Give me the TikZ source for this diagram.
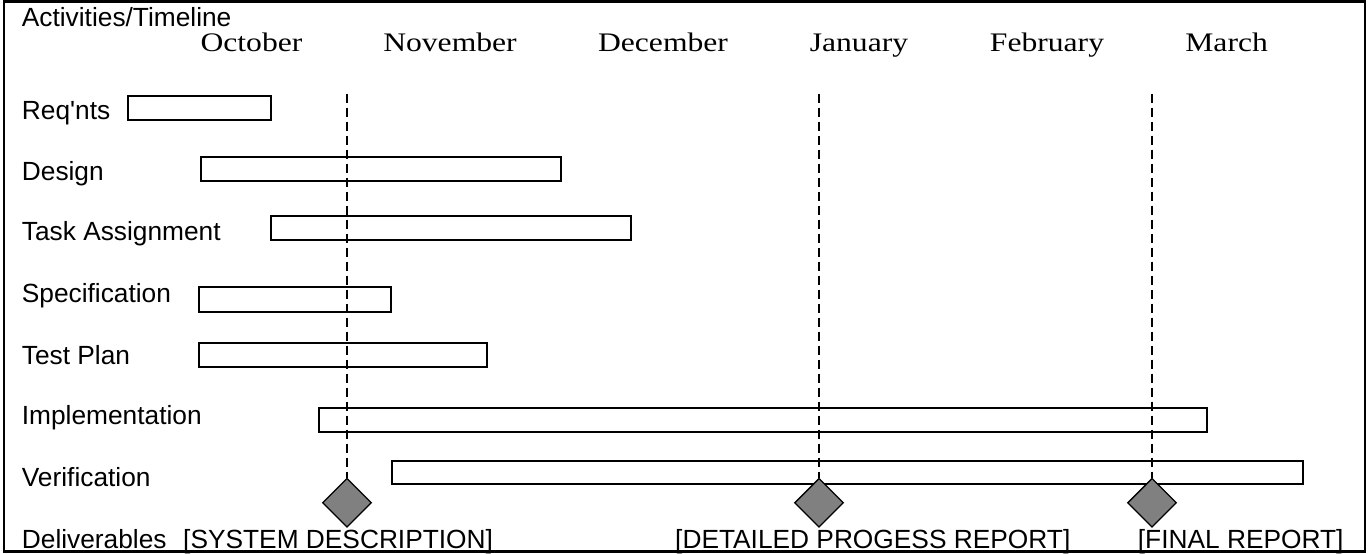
\documentclass[tikz,border=0pt]{standalone}
\usepackage{fontspec}
\setmainfont{Liberation Sans}
\newfontfamily\serifmonth{Liberation Serif}
\usetikzlibrary{shapes.geometric}
\newcommand{\monthtxt}[1]{\scalebox{1.24}[1.05]{\serifmonth\fontsize{25.5}{30}\selectfont #1}}
\begin{document}
\begin{tikzpicture}[x=1pt,y=-1pt,
  lbl/.style={anchor=base west,inner sep=0pt,font=\fontsize{26.3}{30}\selectfont},
  month/.style={anchor=base,inner sep=0pt},
  bar/.style={draw,line width=2pt,anchor=north west,inner sep=0pt,minimum height=24pt},
  milestone/.style={diamond,draw,line width=1.3pt,fill=gray,inner sep=0pt,minimum width=49pt,minimum height=49pt},
  guide/.style={line width=1.1pt,dash pattern=on 9pt off 5pt}]
\useasboundingbox (0,0) rectangle (1368,554);
\draw[line width=2.5pt] (4,1.3) rectangle (1365,551.5);

% header
\node[lbl] (hdr) at (21.7,26.7) {Activities/Timeline};
\node[month] (oct) at (251.5,51) {\monthtxt{October}};
\node[month] (nov) at (450,51) {\monthtxt{November}};
\node[month] (dec) at (663,51) {\monthtxt{December}};
\node[month] (jan) at (859,51) {\monthtxt{January}};
\node[month] (feb) at (1047,51) {\monthtxt{February}};
\node[month] (mar) at (1226.6,51) {\monthtxt{March}};

% activity labels
\node[lbl] (lreq) at (21.7,119.3) {Req\textquotesingle nts};
\node[lbl] (ldes) at (21.7,180) {Design};
\node[lbl] (ltask) at (21.7,240) {Task Assignment};
\node[lbl] (lspec) at (21.7,302.7) {Specification};
\node[lbl] (ltest) at (21.7,364) {Test Plan};
\node[lbl] (limpl) at (21.7,424) {Implementation};
\node[lbl] (lver) at (21.7,486.7) {Verification};

% bars
\node[bar,minimum width=143.5pt] (breq) at (126.5,95.3) {};
\node[bar,minimum width=360pt,minimum height=23.5pt] (bdes) at (199.5,156) {};
\node[bar,minimum width=360pt,minimum height=23.5pt] (btask) at (269.5,215) {};
\node[bar,minimum width=192pt,minimum height=25pt] (bspec) at (197.8,286) {};
\node[bar,minimum width=288pt] (btest) at (197.8,341.8) {};
\node[bar,minimum width=888.5pt] (bimpl) at (317.7,406.5) {};
\node[bar,minimum width=911.5pt,minimum height=23.5pt] (bver) at (390.7,459.5) {};

% milestones
\node[milestone] (m1) at (347,502.8) {};
\node[milestone] (m2) at (819,502.8) {};
\node[milestone] (m3) at (1152,502.8) {};
\coordinate (t1) at (347,93.5);
\coordinate (t2) at (819,93.5);
\coordinate (t3) at (1152,93.5);
\draw[guide] (t1) -- (m1.north);
\draw[guide] (t2) -- (m2.north);
\draw[guide] (t3) -- (m3.north);

% deliverables
\node[lbl] (ldel) at (21.7,548.5) {Deliverables};
\node[lbl] (d1) at (183,548.5) {[SYSTEM DESCRIPTION]};
\node[lbl] (d2) at (675,548.5) {[DETAILED PROGESS REPORT]};
\node[lbl] (d3) at (1137.7,548.5) {[FINAL REPORT]};
\end{tikzpicture}
\end{document}
